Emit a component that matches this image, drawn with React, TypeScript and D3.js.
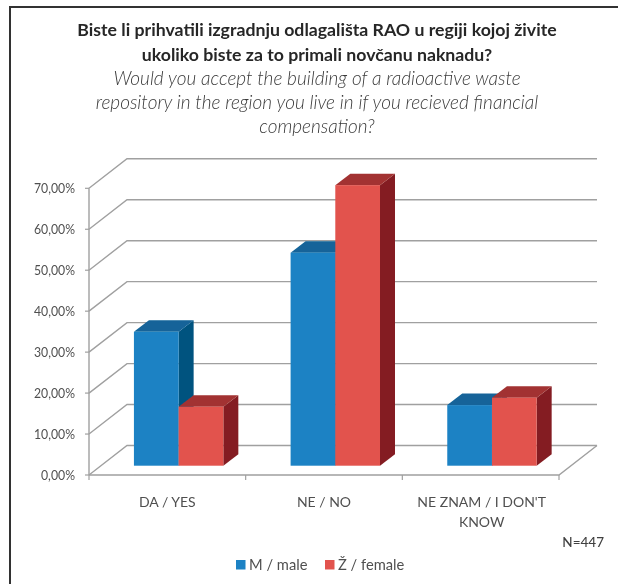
import React from "react";
import * as d3 from "d3";

const categories = ["DA / YES", "NE / NO", "NE ZNAM / I DON'T KNOW"];
const categoryLines = [["DA / YES"], ["NE / NO"], ["NE ZNAM / I DON'T", "KNOW"]];
const seriesNames = ["M / male", "Ž / female"];
const maleValues = [32.7, 52.0, 14.8];
const femaleValues = [14.4, 68.5, 16.6];
const yTicks = [0, 10, 20, 30, 40, 50, 60, 70];
const titleLines = ["Biste li prihvatili izgradnju odlagališta RAO u regiji kojoj živite", "ukoliko biste za to primali novčanu naknadu?"];
const subtitleLines = ["Would you accept the building of a radioactive waste", "repository in the region you live in if you recieved financial", "compensation?"];

const FONT = "Lato, 'Open Sans', sans-serif";
const faces = [
  { front: "#1a82c4", top: "#126499", side: "#04527f" },
  { front: "#e2534d", top: "#a23331", side: "#841f22" },
];

const W = 618, H = 584;
const DX = 38, DY = 29.5;
const x = d3.scaleBand<string>().domain(categories).range([89, 559]);
const y = d3.scaleLinear().domain([0, 70]).range([475, 188.3]);
const BAR_W = 44.7;
const BAR_DX = 15, BAR_DY = 11.5, OFF_X = 11.3, OFF_Y = 9.3;
const fmt = (v: number) => v.toFixed(2).replace(".", ",") + "%";
const pts = (p: [number, number][]) => p.map((q) => q.join(",")).join(" ");

export default function App() {
  const series = [maleValues, femaleValues];
  const grid = "#a0a0a0";
  return (
    <svg width={W} height={H} style={{ position: "absolute", left: 0, top: 0, display: "block", background: "#fff" }} fontFamily={FONT}>
      <defs>
        <filter id="soft" x="-2%" y="-2%" width="104%" height="104%"><feGaussianBlur stdDeviation="0.45" /></filter>
      </defs>
      <g filter="url(#soft)">
        <path d={`M10,${H + 5} V7 H${W + 5}`} fill="none" stroke="#333" strokeWidth={2} />
        <g textAnchor="middle">
          {titleLines.map((t, i) => (
            <text key={t} x={317} y={36 + i * 25} fontSize={17.7} fontWeight={700} fill="#262626">{t}</text>
          ))}
          {subtitleLines.map((t, i) => (
            <text key={t} x={317} y={85 + i * 24} fontSize={19} fontStyle="italic" fontWeight={300} fill="#3a3a3a">{t}</text>
          ))}
        </g>
        {yTicks.map((t) => (
          <polyline key={t} points={pts([[x.range()[0], y(t)], [x.range()[0] + DX, y(t) - DY], [x.range()[1] + DX, y(t) - DY]])} fill="none" stroke={grid} strokeWidth={1.4} />
        ))}
        <polyline points={pts([[x.range()[1] + DX, y(0) - DY], [x.range()[1], y(0)], [x.range()[0], y(0)]])} fill="none" stroke={grid} strokeWidth={1.4} />
        <line x1={x.range()[0]} x2={x.range()[0]} y1={y(70)} y2={y(0)} stroke={grid} strokeWidth={1.4} />
        {yTicks.map((t) => (
          <g key={t}>
            <line x1={x.range()[0] - 4} x2={x.range()[0]} y1={y(t)} y2={y(t)} stroke={grid} strokeWidth={1.2} />
            <text x={75} y={y(t) + 5} textAnchor="end" fontSize={14} fill="#505050" textLength={t === 0 ? 34 : 41} lengthAdjust="spacingAndGlyphs">{fmt(t)}</text>
          </g>
        ))}
        {[...categories.map((c) => x(c)!), x.range()[1]].map((px) => (
          <line key={px} x1={px} x2={px} y1={y(0)} y2={y(0) + 5} stroke={grid} strokeWidth={1.2} />
        ))}
        {categories.map((c, ci) => {
          const cx = x(c)! + x.bandwidth() / 2 + OFF_X;
          return (
            <g key={c}>
              {series.map((vals, si) => {
                const f = faces[si];
                const l = cx + (si - 1) * BAR_W;
                const r = l + BAR_W;
                const b = y(0) - OFF_Y;
                const t = y(vals[ci]) - OFF_Y;
                return (
                  <g key={si}>
                    <polygon points={pts([[r, t], [r + BAR_DX, t - BAR_DY], [r + BAR_DX, b - BAR_DY], [r, b]])} fill={f.side} />
                    <polygon points={pts([[l, t], [l + BAR_DX, t - BAR_DY], [r + BAR_DX, t - BAR_DY], [r, t]])} fill={f.top} />
                    <rect x={l} y={t} width={BAR_W} height={b - t} fill={f.front} />
                  </g>
                );
              })}
            </g>
          );
        })}
        {categories.map((c, ci) => (
          <g key={c} textAnchor="middle" fontSize={14} fill="#505050">
            {categoryLines[ci].map((s, i) => (
              <text key={s} x={x(c)! + x.bandwidth() / 2 + (ci === 2 ? 1 : 0)} y={507 + i * 20}>{s}</text>
            ))}
          </g>
        ))}
        <text x={604} y={547} textAnchor="end" fontSize={13.5} fontWeight={500} fill="#404040">N=447</text>
        {seriesNames.map((s, i) => {
          const lx = [236, 325][i];
          return (
            <g key={s}>
              <rect x={lx} y={560} width={9.5} height={9.5} fill={faces[i].front} />
              <text x={lx + 13} y={569.5} fontSize={14.7} fill="#505050">{s}</text>
            </g>
          );
        })}
      </g>
    </svg>
  );
}
